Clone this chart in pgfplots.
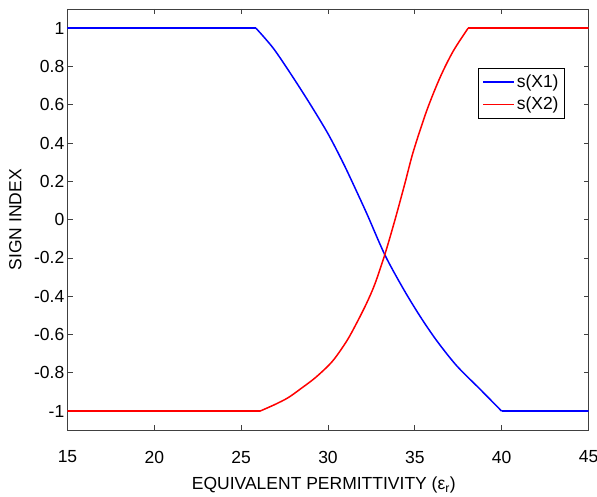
\documentclass[border=0pt]{standalone}
\usepackage{pgfplots}
\pgfplotsset{compat=1.18}
\usepackage{fontspec}
\setmainfont{Liberation Sans}
\definecolor{axgray}{RGB}{64,64,64}
\begin{document}
\begin{tikzpicture}
\begin{axis}[
  scale only axis,
  width=521pt, height=421.3pt,
  xmin=15, xmax=45, ymin=-1.1, ymax=1.1,
  xtick={15,20,25,30,35,40,45},
  ytick={-1,-0.8,-0.6,-0.4,-0.2,0,0.2,0.4,0.6,0.8,1},
  yticklabels={-1,-0.8,-0.6,-0.4,-0.2,0,0.2,0.4,0.6,0.8,1},
  xticklabels={15,20,25,30,35,40,45},
  /pgf/number format/assume math mode=true,
  tick align=inside,
  major tick length=5pt,
  axis line style={axgray, line width=0.8pt},
  tick style={axgray, line width=0.8pt},
  font=\fontsize{17.5}{20}\selectfont,
  tick label style={font=\fontsize{17.5}{20}\selectfont},
  xticklabel style={yshift=-17pt},
  yticklabel style={inner sep=1pt, xshift=-2pt},
  xlabel={EQUIVALENT PERMITTIVITY (ε\textsubscript{r})},
  ylabel={SIGN INDEX},
  xlabel style={at={(axis description cs:0.492,-0.1305)}, anchor=center},
  ylabel style={at={(axis description cs:-0.1,0.5)}, anchor=center},
  legend cell align=left,
  legend style={at={(axis cs:38.64,0.79)}, anchor=north west,
    font=\fontsize{17.5}{20}\selectfont, inner xsep=4pt, inner ysep=4.5pt,
    row sep=4pt},
  legend image code/.code={\draw[#1] (0pt,0pt) -- (31pt,0pt);},
]
\addplot[blue, line width=1.5pt, forget plot] coordinates {(15,1) (25.85,1)};
\addplot[red, line width=1.5pt, forget plot] coordinates {(15,-1) (26.08,-1)};
\addplot[blue, line width=1.5pt, smooth, tension=0.5, forget plot] coordinates {
(25.85,1) (26.85,0.895) (27.9,0.755) (28.96,0.605) (30.01,0.447)
(30.88,0.295) (31.65,0.147) (32.3,0.018) (33.28,-0.185) (34.33,-0.36)
(35.29,-0.503) (36.26,-0.632) (37.41,-0.763) (38.75,-0.885) (40,-1)
};
\addplot[blue, line width=1.5pt, forget plot] coordinates {(40,-1) (45,-1)};
\addplot[red, line width=1.5pt, smooth, tension=0.5, forget plot] coordinates {
(26.08,-1) (26.95,-0.965) (27.7,-0.93) (28.4,-0.885) (29.3,-0.823)
(30.25,-0.74) (31.07,-0.635) (31.65,-0.54) (32.22,-0.437) (32.7,-0.336)
(33.28,-0.18) (33.86,0.0) (34.43,0.19) (34.91,0.355) (35.68,0.568)
(36.45,0.742) (37.21,0.88) (38.07,1)
};
\addplot[red, line width=1.5pt, forget plot] coordinates {(38.07,1) (45,1)};
\addlegendimage{blue, line width=1.5pt}
\addlegendentry{s(X1)}
\addlegendimage{red, line width=1.5pt}
\addlegendentry{s(X2)}
\end{axis}
\pgfresetboundingbox
\path[use as bounding box] ([xshift=-67.5pt,yshift=-66.7pt]current axis.south west) rectangle ([xshift=8.5pt,yshift=9pt]current axis.north east);
\end{tikzpicture}
\end{document}
